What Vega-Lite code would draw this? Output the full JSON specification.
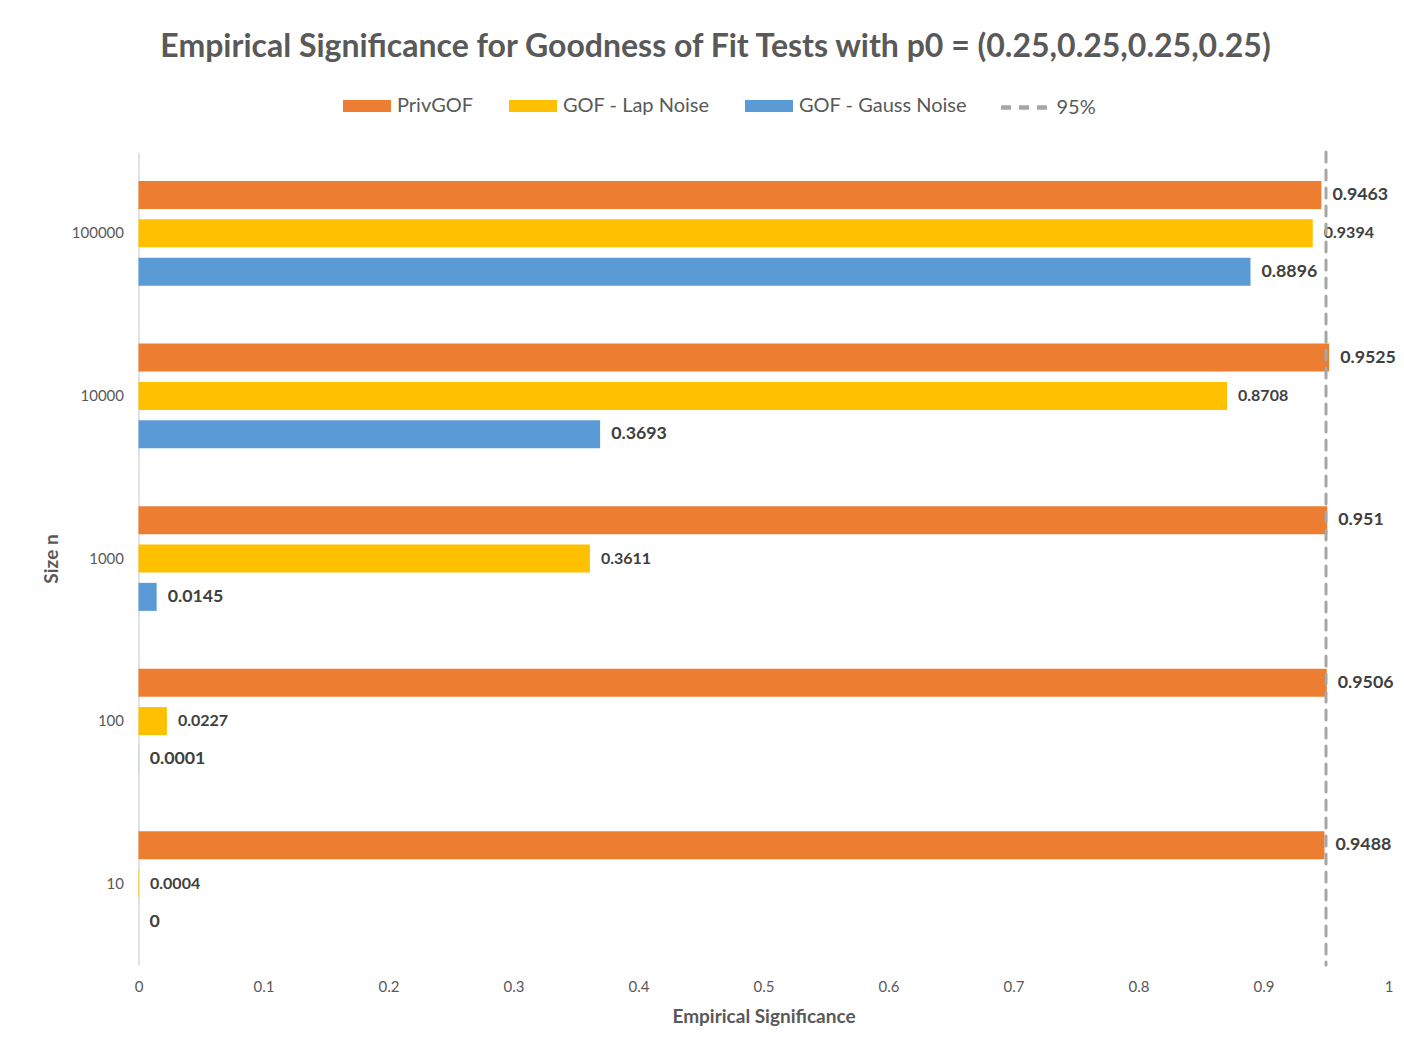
{
  "$schema": "https://vega.github.io/schema/vega-lite/v6.json",
  "autosize": {"type": "none"},
  "width": 1250,
  "height": 813,
  "padding": {"left": 138.5, "top": 152, "right": 15.5, "bottom": 86},
  "background": "#ffffff",
  "title": {
    "text": "Empirical Significance for Goodness of Fit Tests with p0 = (0.25,0.25,0.25,0.25)",
    "anchor": "middle",
    "frame": "group",
    "dx": -48,
    "offset": 16,
    "font": "Lato",
    "fontSize": 32,
    "fontWeight": "bold",
    "color": "#595959"
  },
  "datasets": {
    "results": [
      {"size": "100000", "series": "PrivGOF", "value": 0.9463},
      {"size": "100000", "series": "GOF - Lap Noise", "value": 0.9394},
      {"size": "100000", "series": "GOF - Gauss Noise", "value": 0.8896},
      {"size": "10000", "series": "PrivGOF", "value": 0.9525},
      {"size": "10000", "series": "GOF - Lap Noise", "value": 0.8708},
      {"size": "10000", "series": "GOF - Gauss Noise", "value": 0.3693},
      {"size": "1000", "series": "PrivGOF", "value": 0.951},
      {"size": "1000", "series": "GOF - Lap Noise", "value": 0.3611},
      {"size": "1000", "series": "GOF - Gauss Noise", "value": 0.0145},
      {"size": "100", "series": "PrivGOF", "value": 0.9506},
      {"size": "100", "series": "GOF - Lap Noise", "value": 0.0227},
      {"size": "100", "series": "GOF - Gauss Noise", "value": 0.0001},
      {"size": "10", "series": "PrivGOF", "value": 0.9488},
      {"size": "10", "series": "GOF - Lap Noise", "value": 0.0004},
      {"size": "10", "series": "GOF - Gauss Noise", "value": 0}
    ],
    "threshold": [
      {"line": "95%", "level": 0.95}
    ]
  },
  "layer": [
    {
      "data": {"name": "results"},
      "mark": {"type": "bar"},
      "encoding": {
        "y": {
          "field": "size",
          "type": "nominal",
          "sort": ["100000", "10000", "1000", "100", "10"],
          "scale": {"paddingInner": 0.356, "paddingOuter": 0.178},
          "axis": {
            "title": "Size n",
            "titleFont": "Lato",
            "titleFontSize": 19,
            "titleFontWeight": "bold",
            "titleColor": "#595959",
            "titlePadding": 10,
            "labelFont": "Lato",
            "labelFontSize": 15,
            "labelColor": "#595959",
            "labelPadding": 15,
            "ticks": false,
            "domain": true,
            "domainColor": "#D9D9D9",
            "domainWidth": 1.5,
            "grid": false
          }
        },
        "yOffset": {
          "field": "series",
          "type": "nominal",
          "sort": ["PrivGOF", "GOF - Lap Noise", "GOF - Gauss Noise"],
          "scale": {"paddingInner": 0.27, "paddingOuter": 0}
        },
        "x": {
          "field": "value",
          "type": "quantitative",
          "scale": {"domain": [0, 1], "nice": false},
          "axis": {
            "title": "Empirical Significance",
            "titleFont": "Lato",
            "titleFontSize": 19,
            "titleFontWeight": "bold",
            "titleColor": "#595959",
            "titlePadding": 13,
            "values": [0, 0.1, 0.2, 0.3, 0.4, 0.5, 0.6, 0.7, 0.8, 0.9, 1],
            "format": "~g",
            "labelFont": "Lato",
            "labelFontSize": 15,
            "labelColor": "#595959",
            "labelPadding": 14,
            "labelFlush": false,
            "ticks": false,
            "domain": false,
            "grid": false
          }
        },
        "color": {
          "field": "series",
          "type": "nominal",
          "scale": {
            "domain": ["PrivGOF", "GOF - Lap Noise", "GOF - Gauss Noise"],
            "range": ["#ED7D31", "#FFC000", "#5B9BD5"]
          },
          "legend": {
            "title": null,
            "orient": "none",
            "direction": "horizontal",
            "legendX": 204.5,
            "legendY": -70,
            "padding": 0,
            "symbolType": "M-1,-0.25H1V0.25H-1Z",
            "symbolSize": 2304,
            "symbolStrokeWidth": 0,
            "symbolOpacity": 1,
            "labelFont": "Lato",
            "labelFontSize": 20,
            "labelColor": "#595959",
            "labelOffset": 6,
            "labelLimit": 400,
            "columnPadding": 35
          }
        }
      }
    },
    {
      "data": {"name": "results"},
      "mark": {
        "type": "text",
        "align": "left",
        "baseline": "middle",
        "dx": 11,
        "font": "Lato",
        "fontWeight": "bold",
        "color": "#404040"
      },
      "encoding": {
        "y": {"field": "size", "type": "nominal", "sort": ["100000", "10000", "1000", "100", "10"]},
        "yOffset": {"field": "series", "type": "nominal", "sort": ["PrivGOF", "GOF - Lap Noise", "GOF - Gauss Noise"]},
        "x": {"field": "value", "type": "quantitative"},
        "text": {"field": "value", "type": "nominal"},
        "size": {
          "condition": {"test": "datum.series === 'GOF - Lap Noise'", "value": 16},
          "value": 17.8
        }
      }
    },
    {
      "data": {"name": "threshold"},
      "mark": {
        "type": "rule",
        "color": "#A6A6A6",
        "strokeWidth": 3,
        "strokeCap": "round"
      },
      "encoding": {
        "x": {"field": "level", "type": "quantitative"},
        "strokeDash": {
          "field": "line",
          "type": "nominal",
          "scale": {"range": [[10, 8]]},
          "legend": {
            "title": null,
            "orient": "none",
            "legendX": 860,
            "legendY": -72,
            "padding": 0,
            "symbolType": "stroke",
            "symbolSize": 2500,
            "symbolStrokeWidth": 4.5,
            "symbolStrokeColor": "#A6A6A6",
            "symbolDash": [13, 5],
            "labelFont": "Lato",
            "labelFontSize": 20,
            "labelColor": "#595959",
            "labelOffset": 3
          }
        }
      }
    }
  ],
  "config": {
    "view": {"stroke": null},
    "font": "Lato"
  }
}
